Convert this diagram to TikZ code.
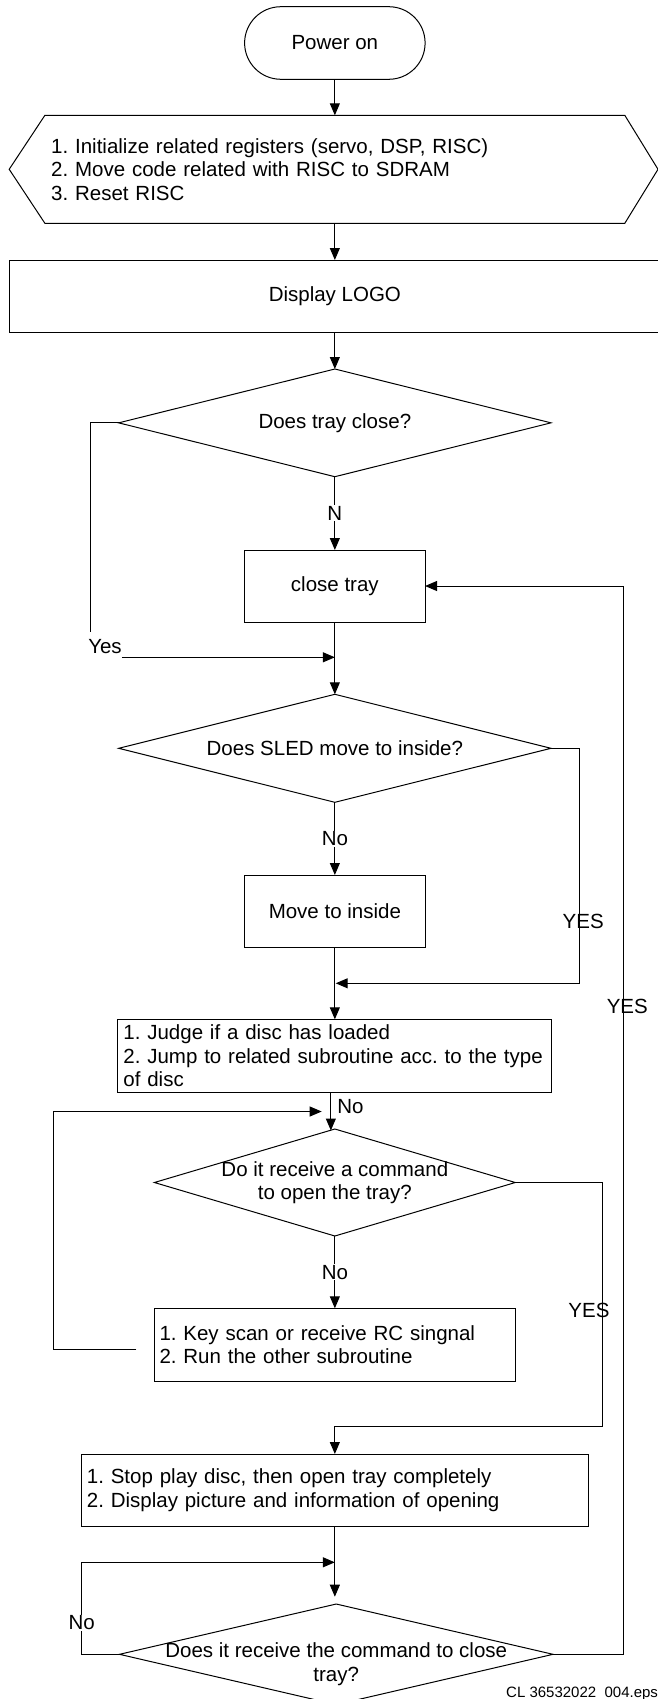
\documentclass[tikz,border=0pt]{standalone}
\usepackage{fontspec}
\setmainfont{Liberation Sans}
\usetikzlibrary{arrows.meta,shapes.geometric}
\begin{document}
\frenchspacing
\begin{tikzpicture}[x=1pt,y=-1pt,
  every node/.style={font=\fontsize{20.5}{23.5}\selectfont},
  line/.style={line width=1pt},
  arr/.style={line width=1pt,-{Triangle[length=12pt,width=10pt]}},
  boxnode/.style={draw,line width=1pt,inner sep=0pt,outer sep=0pt},
  dia/.style={draw,diamond,line width=1pt,inner sep=0pt,outer sep=0pt},
  lbl/.style={fill=white,inner sep=1pt},
  tag/.style={inner sep=0pt}]
\useasboundingbox (0,0) rectangle (658,1699);
\clip (0,0) rectangle (658,1699);

% nodes
\node[boxnode,rounded corners=36.3pt,minimum width=180.5pt,minimum height=72.6pt] (power) at (334.85,43) {Power on};

\node[inner sep=0pt,outer sep=0pt,minimum width=579.9pt,minimum height=108pt,text width=567.3pt,align=left] (hex) at (334.85,169.3)
  {1. Initialize related registers (servo, DSP, RISC)\\2. Move code related with RISC to SDRAM\\3. Reset RISC};
\draw[line] (hex.north west) -- (hex.north east) -- ([xshift=33.2pt]hex.east) -- (hex.south east) -- (hex.south west) -- ([xshift=-35.7pt]hex.west) -- cycle;

\node[boxnode,minimum width=651.2pt,minimum height=72.3pt] (logo) at (334.85,296.15) {Display LOGO};

\node[dia,minimum width=432.3pt,minimum height=107.7pt,label=center:{Does tray close?}] (d1) at (334.85,422.85) {};

\node[boxnode,minimum width=180.4pt,minimum height=72pt] (close) at (334.85,586) {close tray};

\node[dia,minimum width=432.3pt,minimum height=108pt,label=center:{Does SLED move to inside?}] (d2) at (334.85,748.3) {};

\node[boxnode,minimum width=180.4pt,minimum height=72.7pt] (move) at (334.85,911.35) {Move to inside};

\node[boxnode,inner xsep=5.5pt,text width=422.9pt,align=left,minimum height=73pt] (judge) at (334.85,1055.8)
  {1. Judge if a disc has loaded\\\mbox{2. Jump to related subroutine acc. to the type}\\of disc};

\node[dia,minimum width=360.9pt,minimum height=107pt,label={[align=center]center:{Do it receive a command\\to open the tray?}}] (d3) at (334.85,1182.5) {};

\node[boxnode,inner xsep=5.5pt,text width=350.7pt,align=left,minimum height=73pt] (keyscan) at (334.85,1344.8)
  {1. Key scan or receive RC singnal\\2. Run the other subroutine};

\node[boxnode,inner xsep=5.5pt,text width=495.9pt,align=left,minimum height=72pt] (stop) at (334.85,1490)
  {1. Stop play disc, then open tray completely\\2. Display picture and information of opening};

\node[dia,minimum width=433.5pt,minimum height=100.6pt,label={[align=center,yshift=-10pt]center:{Does it receive the command to close\\tray?}}] (d4) at (336.25,1654.3) {};

% labels
\node[tag] (yes1) at (105,647) {Yes};
\node[tag] (yes2) at (583.2,921) {YES};
\node[tag] (yes3) at (627.3,1006.7) {YES};
\node[tag] (yes4) at (589,1310) {YES};
\node[anchor=base west,inner sep=0pt,font=\fontsize{15}{18}\selectfont] (cl) at (506,1697) {CL 36532022\_004.eps};

% coordinates
\coordinate (c1) at (90.7,631.7);
\coordinate (j1) at (334.85,657.3);
\coordinate (m1) at (335.7,983.3);
\coordinate (c2) at (579,983.3);
\coordinate (d3in) at (330.85,1130.5);
\coordinate (ks1) at (136.4,1349);
\coordinate (lp) at (321.7,1111.5);
\coordinate (c3) at (602,1426.7);
\coordinate (d4in) at (334.85,1596.7);
\coordinate (c4) at (81.7,1562.3);
\coordinate (q1) at (334.85,1562.3);

% connectors
\draw[arr] (power) -- (hex);
\draw[arr] (hex) -- (logo);
\draw[arr] (logo) -- (d1);
\draw[arr] (d1) -- node[lbl]{N} (close);
\draw[line] (d1.west) -| (c1);
\draw[arr] (yes1.east |- j1) -- (j1);
\draw[arr] (close) -- (d2);
\draw[arr] (d2) -- node[lbl]{No} (move);
\draw[arr] (d2.east) -| (c2) -- (m1);
\draw[arr] (move) -- (judge);
\draw[arr] ([xshift=-4pt]judge.south) -- node[pos=0.377,anchor=west,inner sep=0pt,xshift=6pt]{No} (d3in);
\draw[arr] (ks1) -- ++(-83.1,0) |- (lp);
\draw[arr] (d3) -- node[lbl]{No} (keyscan);
\draw[arr] (d3.east) -| (c3) -| (stop.north);
\draw[arr] (stop) -- (d4in);
\draw[arr] (d4.west) -| (c4) -- (q1);
\node[lbl] (no5) at (81.7,1623) {No};
\draw[arr] (d4.east) -- ++(70.7,0) |- (close.east);
\end{tikzpicture}
\end{document}
